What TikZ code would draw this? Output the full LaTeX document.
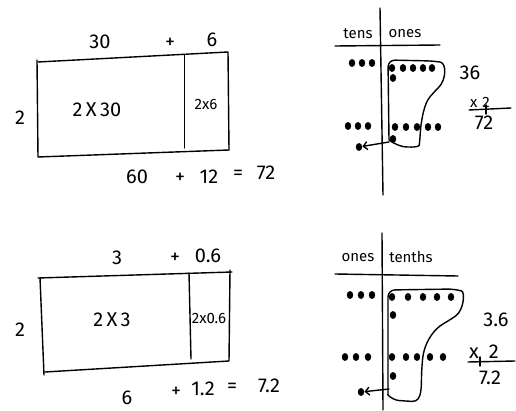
\documentclass[tikz,border=0pt]{standalone}
\usepackage{fontspec}
\setmainfont{Fira Sans}
\usetikzlibrary{arrows.meta,shapes.geometric}

\tikzset{
    pen/.style={line width=1.4pt, line cap=round, line join=round},
    hand/.style={inner sep=1pt, font=\fontsize{20}{22}\selectfont},
    small/.style={inner sep=1pt, font=\fontsize{15}{17}\selectfont},
    dot/.style={ellipse, fill, inner sep=0pt, minimum width=6.4pt, minimum height=8pt},
}

\begin{document}
\begin{tikzpicture}[x=1pt, y=-1pt]
    \useasboundingbox (0,0) rectangle (516,411);

    % area model: 2 x 36
    \coordinate (tl1) at (38,62);
    \coordinate (tr1) at (228,52);
    \coordinate (br1) at (229,150);
    \coordinate (bl1) at (38,157);
    \draw[pen] (tl1) -- (tr1) -- (br1);
    \draw[pen] (37,60) -- (bl1) -- (br1);
    \draw[pen] (184.4,55) -- (184.4,148);
    \node[hand] (a30) at (100,42) {30};
    \node[hand] (ap1) at (170,43) {+};
    \node[hand] (a6) at (212,40) {6};
    \node[hand] (a2) at (20,118) {2};
    \node[hand] (a2x30) at (97,110) {2\,X\,30};
    \node[small] (a2x6) at (206,105) {2x6};
    \node[hand] (a60) at (137,177) {60};
    \node[hand] (ap2) at (180,178) {+};
    \node[hand] (a12) at (209,177) {12};
    \node[hand] (aeq) at (238,175) {=};
    \node[hand] (a72) at (266,173) {72};

    % area model: 2 x 3.6
    \coordinate (tl2) at (40,278);
    \coordinate (tr2) at (232,272);
    \coordinate (br2) at (229,361);
    \coordinate (bl2) at (45,372);
    \draw[pen] (38,278) -- (tr2);
    \draw[pen] (230,270) -- (br2) -- (bl2);
    \draw[pen] (tl2) -- (44,375);
    \draw[pen] (189,273) -- (191,359);
    \node[hand] (b3) at (117,258) {3};
    \node[hand] (bp1) at (175,258) {+};
    \node[hand] (b06) at (208,256) {0.6};
    \node[hand] (b2) at (20,330) {2};
    \node[hand] (b2x3) at (112,320) {2\,X\,3};
    \node[small] (b2x06) at (209,318) {2x0.6};
    \node[hand] (b6) at (127,398) {6};
    \node[hand] (bp2) at (176,392) {+};
    \node[hand] (b12) at (203,389) {1.2};
    \node[hand] (beq) at (232,388) {=};
    \node[hand] (b72) at (269,386) {7.2};

    % place value chart: tens / ones
    \draw[pen] (380,8) -- (383,195);
    \draw[pen] (335,46) -- (440,45);
    \node[small] (tens) at (358,34) {tens};
    \node[small] (ones) at (405,34) {ones};
    \foreach \x in {352,362,372} \node[dot] at (\x,63) {};
    \foreach \x in {348,358,368} \node[dot] at (\x,126) {};
    \node[dot] (ct) at (359,147) {};
    \foreach \x in {392,403,413,423,432} \node[dot] at (\x,68) {};
    \node[dot] at (393,78) {};
    \foreach \x in {395,406,417,428,438} \node[dot] at (\x,127) {};
    \node[dot] at (393,139) {};
    \draw[pen, rounded corners=7pt] (389,140) -- (388,60) -- (433,61)
        .. controls (447,63) and (446,80) .. (434,92)
        .. controls (424,104) and (421,122) .. (420,138)
        .. controls (419,148) and (405,147) .. (396,145)
        -- (389,140);
    \draw[pen, -{Straight Barb[length=4pt, width=8pt]}] (389,142) -- (ct);
    \node[hand] (m36) at (470,73) {36};
    \node[small] (mx) at (480,102) {x\,\,2};
    \draw[pen] (469,110) -- (511,108);
    \draw[pen] (486,105) -- (486,114);
    \node[hand] (m72) at (484,123) {72};

    % place value chart: ones / tenths
    \draw[pen] (382,233) -- (383,410);
    \draw[pen] (335,274) -- (458,276);
    \node[small] (ones2) at (358,258) {ones};
    \node[small] (tenths) at (411,257) {tenths};
    \foreach \x in {350,361,372} \node[dot] at (\x,295) {};
    \foreach \x in {345,356,368} \node[dot] at (\x,357) {};
    \node[dot] (co) at (361,392) {};
    \foreach \x in {392,408,423,437,451} \node[dot] at (\x,297) {};
    \node[dot] at (393,315) {};
    \foreach \x in {392,406,417,430,443} \node[dot] at (\x,357) {};
    \node[dot] at (393,376) {};
    \draw[pen, rounded corners=7pt] (388,395) -- (388,290) -- (455,289)
        .. controls (465,292) and (464,310) .. (450,320)
        .. controls (432,330) and (424,345) .. (422,365)
        .. controls (421,385) and (423,402) .. (405,401)
        -- (392,400) -- (388,395);
    \draw[pen, -{Straight Barb[length=4pt, width=8pt]}] (389,389) -- (co);
    \node[hand] (m36b) at (496,320) {3.6};
    \node[hand] (mxb) at (484,352) {x\,\,\,2};
    \draw[pen] (468,362) -- (515,361);
    \draw[pen] (480,357) -- (480,366);
    \node[hand] (m72b) at (490,378) {7.2};
\end{tikzpicture}
\end{document}
